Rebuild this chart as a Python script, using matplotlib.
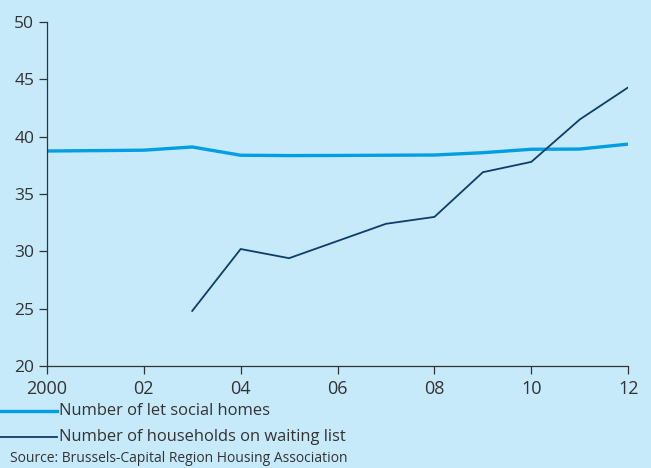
import numpy as np
import matplotlib.pyplot as plt
from matplotlib.lines import Line2D

plt.rcParams['font.family'] = ['Open Sans', 'DejaVu Sans']

years = [2000, 2001, 2002, 2003, 2004, 2005, 2006, 2007, 2008, 2009, 2010, 2011, 2012]
let_homes = [38.75, 38.78, 38.82, 39.1, 38.38, 38.35, 38.36, 38.38, 38.4, 38.6, 38.9, 38.92, 39.35]

wait_years = [2003, 2004, 2005, 2006, 2007, 2008, 2009, 2010, 2011, 2012]
waiting = [24.8, 30.2, 29.4, 30.9, 32.4, 33.0, 36.9, 37.8, 41.5, 44.3]

xticks = [2000, 2002, 2004, 2006, 2008, 2010, 2012]
xlabels = ['2000', '02', '04', '06', '08', '10', '12']
yticks = [20, 25, 30, 35, 40, 45, 50]

bg = '#c7eafa'
light = '#009fe3'
dark = '#0e3d6b'
grey = '#333333'

fig = plt.figure(figsize=(6.51, 4.68), dpi=100, facecolor=bg)
ax = fig.add_axes([0.072, 0.218, 0.893, 0.735])
ax.set_facecolor(bg)

ax.plot(years, let_homes, color=light, lw=2.4, solid_capstyle='butt')
ax.plot(wait_years, waiting, color=dark, lw=1.3)

ax.set_xlim(2000, 2012)
ax.set_ylim(20, 50)
ax.set_xticks(xticks)
ax.set_xticklabels(xlabels)
ax.set_yticks(yticks)
for s in ['top', 'right']:
    ax.spines[s].set_visible(False)
for s in ['left', 'bottom']:
    ax.spines[s].set_color(grey)
    ax.spines[s].set_linewidth(0.9)
ax.tick_params(axis='both', colors=grey, labelsize=12.5, length=6, width=0.9)
ax.tick_params(axis='x', labelsize=13, pad=4)
ax.tick_params(axis='y', pad=3)

# legend under the chart
fig.add_artist(Line2D([0.0, 0.088], [1 - 411 / 468] * 2, color=light, lw=2.4,
                      transform=fig.transFigure))
fig.add_artist(Line2D([0.0, 0.088], [1 - 437 / 468] * 2, color=dark, lw=1.3,
                      transform=fig.transFigure))
fig.text(0.091, 1 - 411 / 468, 'Number of let social homes', va='center',
         ha='left', fontsize=11.9, color=grey)
fig.text(0.091, 1 - 437 / 468, 'Number of households on waiting list', va='center',
         ha='left', fontsize=11.9, color=grey)
fig.text(0.016, 1 - 459 / 468, 'Source: Brussels-Capital Region Housing Association',
         va='center', ha='left', fontsize=10, color=grey)

fig.savefig('out.png', dpi=100, facecolor=bg)
